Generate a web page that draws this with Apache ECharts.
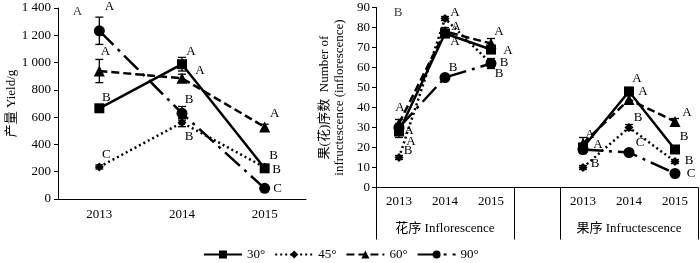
<!DOCTYPE html>
<html><head><meta charset="utf-8">
<script src="https://cdn.jsdelivr.net/npm/echarts@6/dist/echarts.min.js"></script>
<style>html,body{margin:0;padding:0;background:#fff}#c{width:700px;height:263px}</style>
</head><body><div id="c"></div>
<script>
// ---------- data ----------
const years = ['2013', '2014', '2015'];
const yield30 = [665, 988, 225];
const yield45 = [235, 560, 232];
const yield60 = [938, 885, 528];
const yield90 = [1233, 628, 78];
const yieldErr30 = [20, 50, 15];
const yieldErr45 = [15, 30, 15];
const yieldErr60 = [85, 30, 20];
const yieldErr90 = [100, 50, 10];
const yieldLet30 = ['B', 'A', 'B'];
const yieldLet45 = ['C', 'B', 'B'];
const yieldLet60 = ['A', 'A', 'A'];
const yieldLet90 = ['A', 'B', 'C'];
const yieldTicks = [0, 200, 400, 600, 800, 1000, 1200, 1400];

const countCats = ['2013', '2014', '2015', '', '2013', '2014', '2015'];
const groupNames = ['', '花序 Inflorescence', '', '', '', '果序 Infructescence', ''];
const count30 = [28, 77, 69, null, 20, 48, 19];
const count45 = [15, 84.5, 62, null, 10, 30, 13];
const count60 = [32, 78, 72, null, 22, 44, 33];
const count90 = [30, 55, 62, null, 19, 17.5, 7];
const countErr30 = [3, 2, 2, null, 2, 2, 1];
const countErr45 = [1, 1, 1, null, 1, 1.5, 1];
const countErr60 = [2, 2, 2.5, null, 3, 2, 1.5];
const countErr90 = [2, 1, 2.5, null, 2, 1, 1];
const countLet30 = ['A', 'A', 'A', '', 'A', 'A', 'B'];
const countLet45 = ['B', 'A', 'B', '', 'B', 'B', 'B'];
const countLet60 = ['A', 'A', 'A', '', 'A', 'A', 'A'];
const countLet90 = ['A', 'B', 'B', '', '', 'C', 'C'];
const seriesNames = ['30°', '45°', '60°', '90°'];

// ---------- styles ----------
const FONT = "'Liberation Serif','Noto Sans CJK SC',serif";
const styles = {
  '30°': { type: 'solid', symbol: 'rect', size: 10 },
  '45°': { type: [2, 3], symbol: 'diamond', size: 9 },
  '60°': { type: [8, 4], symbol: 'triangle', size: 11 },
  '90°': { type: [20, 6, 3, 6], symbol: 'circle', size: 11 }
};
const yieldOff = {
  '30°': [[7, -11], [9, -13], [12, 1]],
  '45°': [[7, -12], [7, 14], [9, -12]],
  '60°': [[6, -19], [18, -8], [10, -13]],
  '90°': [[10, -24], [7, -14], [13, 0]]
};
const countOff = {
  '30°': [[10, -1], [10, 8], [17, 1], null, [15, -3], [8, -13], [9, -13]],
  '45°': [[9, -7], [10, -6], [8, 10], null, [12, -4], [9, -10], [14, -1]],
  '60°': [[1, -16], [11, -5], [8, -12], null, [7, -9], [14, -8], [12, -9]],
  '90°': [[12, 14], [8, -10], [13, -1], null, null, [11, -10], [16, 0]]
};

function lineData(vals, lets, offs) {
  return vals.map((v, i) => {
    if (v == null) return null;
    const o = offs[i];
    const item = { value: v };
    if (lets[i] && o) {
      item.label = { show: true, position: 'inside', offset: o, formatter: lets[i],
        color: '#000', fontSize: 13, fontFamily: FONT };
    }
    return item;
  });
}
function lineSeries(name, vals, lets, offs, xi, yi) {
  const s = styles[name];
  return {
    type: 'line', name, xAxisIndex: xi, yAxisIndex: yi,
    data: lineData(vals, lets, offs),
    symbol: s.symbol, symbolSize: s.size, connectNulls: false,
    itemStyle: { color: '#000' },
    lineStyle: { color: '#000', width: 2.5, type: s.type },
    label: { show: false }, z: 3, animation: false
  };
}
function errSeries(vals, errs, xi, yi) {
  const data = [];
  vals.forEach((v, i) => { if (v != null && errs[i] != null) data.push([i, v - errs[i], v + errs[i]]); });
  return {
    type: 'custom', xAxisIndex: xi, yAxisIndex: yi, data, z: 2, silent: true,
    renderItem: (params, api) => {
      const lo = api.coord([api.value(0), api.value(1)]);
      const hi = api.coord([api.value(0), api.value(2)]);
      const w = 4;
      const st = { stroke: '#000', lineWidth: 1.3 };
      return { type: 'group', children: [
        { type: 'line', shape: { x1: lo[0], y1: lo[1], x2: hi[0], y2: hi[1] }, style: st },
        { type: 'line', shape: { x1: lo[0] - w, y1: lo[1], x2: lo[0] + w, y2: lo[1] }, style: st },
        { type: 'line', shape: { x1: hi[0] - w, y1: hi[1], x2: hi[0] + w, y2: hi[1] }, style: st }
      ]};
    }
  };
}
function extraLetter(x, v, txt, off, xi, yi) {
  return {
    type: 'scatter', xAxisIndex: xi, yAxisIndex: yi, symbolSize: 0, silent: true,
    data: [{ value: [x, v], label: { show: true, position: 'inside', offset: off, formatter: txt,
      color: '#000', fontSize: 13, fontFamily: FONT } }]
  };
}

const axisFont = { color: '#000', fontSize: 13, fontFamily: FONT };
const vals = { '30°': [yield30, count30], '45°': [yield45, count45], '60°': [yield60, count60], '90°': [yield90, count90] };
const errs = { '30°': [yieldErr30, countErr30], '45°': [yieldErr45, countErr45], '60°': [yieldErr60, countErr60], '90°': [yieldErr90, countErr90] };
const lets = { '30°': [yieldLet30, countLet30], '45°': [yieldLet45, countLet45], '60°': [yieldLet60, countLet60], '90°': [yieldLet90, countLet90] };

const series = [];
seriesNames.forEach(n => {
  series.push(errSeries(vals[n][0], errs[n][0], 0, 0));
  series.push(errSeries(vals[n][1], errs[n][1], 1, 1));
});
seriesNames.forEach(n => {
  series.push(lineSeries(n, vals[n][0], lets[n][0], yieldOff[n], 0, 0));
  series.push(lineSeries(n, vals[n][1], lets[n][1], countOff[n], 1, 1));
});
series.push(extraLetter(0, yield90[0], 'A', [-22, -19], 0, 0));
series.push(extraLetter(0, count90[0], 'B', [-1, -115], 1, 1));
// long table separators under the right axis
series.push({
  type: 'custom', xAxisIndex: 1, yAxisIndex: 1, silent: true,
  data: [[0, -1], [3, -1], [4, -1], [6, 1]],
  renderItem: (params, api) => {
    const c = api.coord([api.value(0), 0]);
    const band = api.size([1, 0])[0];
    const x = Math.round(c[0] + api.value(1) * band / 2) + 0.5;
    return { type: 'line', shape: { x1: x, y1: c[1], x2: x, y2: c[1] + 52 }, style: { stroke: '#000', lineWidth: 1 } };
  }
});

const chart = echarts.init(document.getElementById('c'), null, { renderer: 'canvas' });
chart.setOption({
  animation: false,
  backgroundColor: '#fff',
  textStyle: { fontFamily: FONT },
  grid: [
    { left: 58, top: 8, width: 248, bottom: 64 },
    { left: 376, top: 7.5, width: 322, bottom: 75.5 }
  ],
  legend: {
    data: seriesNames, left: 198, top: 243, itemWidth: 38, itemHeight: 10, itemGap: 9,
    textStyle: axisFont
  },
  xAxis: [
    { type: 'category', gridIndex: 0, data: years, boundaryGap: true,
      axisLine: { lineStyle: { color: '#000', width: 1 } },
      axisTick: { inside: true, length: 4, lineStyle: { color: '#000' } },
      axisLabel: Object.assign({ margin: 9 }, axisFont), splitLine: { show: false } },
    { type: 'category', gridIndex: 1, data: countCats, boundaryGap: true,
      axisLine: { lineStyle: { color: '#000', width: 1 } },
      axisTick: { inside: false, length: 24, interval: 0, lineStyle: { color: '#000' } },
      axisLabel: Object.assign({ margin: 8, interval: 0 }, axisFont), splitLine: { show: false } },
    { type: 'category', gridIndex: 1, data: groupNames, boundaryGap: true, position: 'bottom',
      axisLine: { show: false }, axisTick: { show: false },
      axisLabel: Object.assign({ margin: 35, interval: 0 }, axisFont), splitLine: { show: false } }
  ],
  yAxis: [
    { type: 'value', gridIndex: 0, min: yieldTicks[0], max: yieldTicks[yieldTicks.length - 1], interval: 200,
      name: '产量 Yield/g', nameLocation: 'middle', nameGap: 39, nameRotate: 90,
      nameTextStyle: axisFont,
      axisLine: { show: true, lineStyle: { color: '#000' } },
      axisTick: { show: true, length: 4, lineStyle: { color: '#000' } },
      axisLabel: Object.assign({ margin: 7, formatter: v => v >= 1000 ? String(v).replace(/(\d)(\d{3})$/, '$1 $2') : String(v) }, axisFont),
      splitLine: { show: false } },
    { type: 'value', gridIndex: 1, min: 0, max: 90, interval: 10,
      name: '果(花)序数  Number of\ninfructescence (inflorescence)', nameLocation: 'middle', nameGap: 29, nameRotate: 90,
      nameTextStyle: Object.assign({ lineHeight: 15 }, axisFont),
      axisLine: { show: true, lineStyle: { color: '#000' } },
      axisTick: { show: true, length: 4, lineStyle: { color: '#000' } },
      axisLabel: Object.assign({ margin: 6 }, axisFont),
      splitLine: { show: false } }
  ],
  series
});
</script></body></html>
